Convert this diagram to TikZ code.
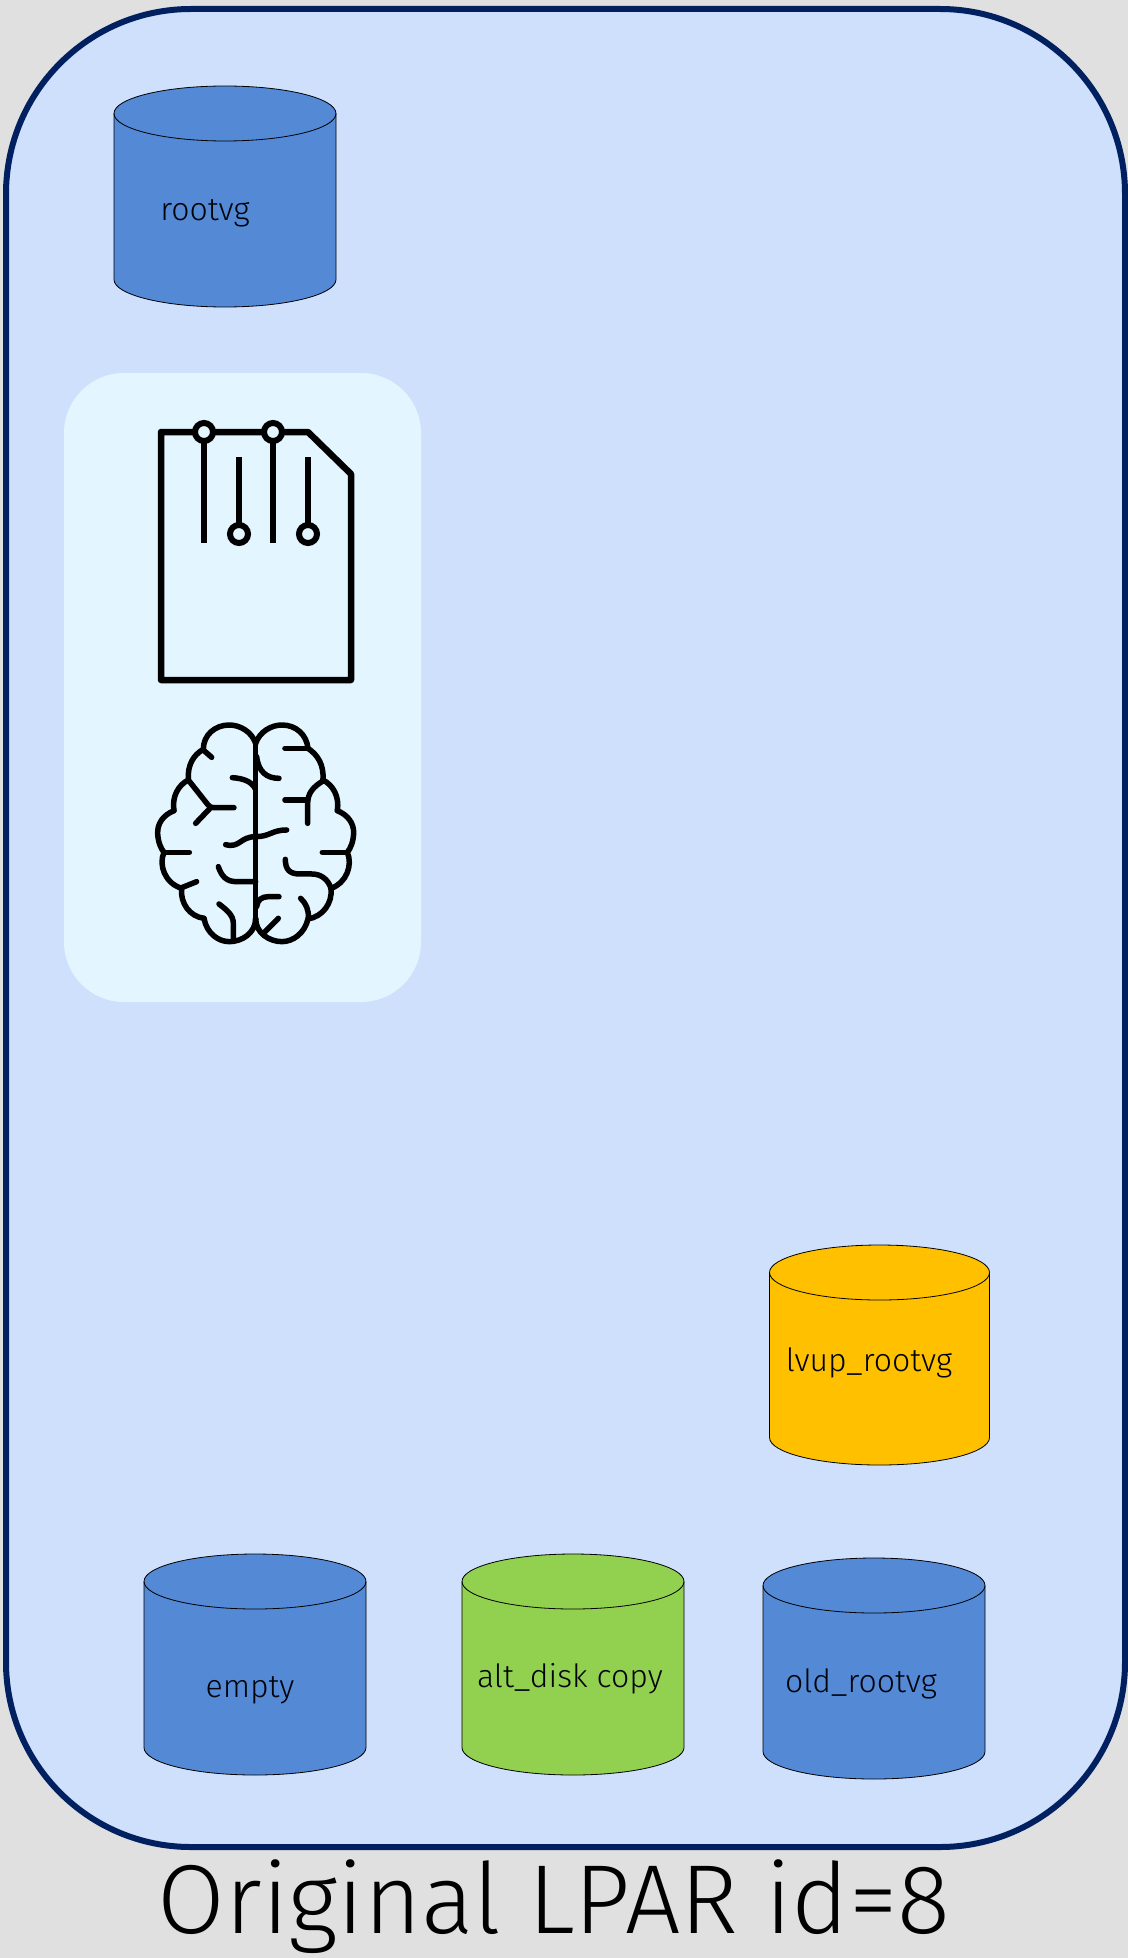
\documentclass[tikz,border=0pt]{standalone}
\usepackage{fontspec}
\usepackage{xcolor}
\setmainfont{Fira Sans Light}
\definecolor{c1}{RGB}{224,224,224}
\definecolor{c2}{RGB}{207,224,253}
\definecolor{c3}{RGB}{0,32,96}
\definecolor{c4}{RGB}{227,245,255}
\definecolor{c5}{RGB}{84,137,214}
\definecolor{c6}{RGB}{146,208,80}
\definecolor{c7}{RGB}{255,192,0}
\tikzset{
    diskline/.style={draw=black, line width=0.8pt},
    disklabel/.style={text=black!90!c3, font=\fontsize{32}{38}\selectfont, inner sep=0pt},
    icon/.style={line width=6.5pt, line join=round},
    pin/.style={circle, draw=black, line width=6pt, fill=c4, minimum size=18pt, inner sep=0pt},
    wire/.style={line width=5.5pt, line cap=round, line join=round}
}
% left x, y of the lid, x radius, y radius, side height, colour
\newcommand{\disk}[6]{
    \filldraw[diskline, fill=#6] (#1,#2) -- (#1,#2+#5) arc[start angle=180, end angle=360, x radius=#3pt, y radius=#4pt]
        -- (#1+2*#3,#2) arc[start angle=0, end angle=180, x radius=#3pt, y radius=#4pt] -- cycle;
    \draw[diskline] (#1,#2) arc[start angle=180, end angle=360, x radius=#3pt, y radius=#4pt];
}
\begin{document}
\begin{tikzpicture}[x=1pt, y=-1pt]
\fill[c1] (0,0) rectangle (1128,1958);
\draw[c3, fill=c2, line width=6pt, rounded corners=185pt] (6,9) rectangle (1125,1847);
\fill[c4, rounded corners=60pt] (64,373) rectangle (421,1002);
% disks
\disk{114}{113.5}{111}{27.5}{166}{c5}
\disk{769.5}{1272.5}{110}{27.5}{165}{c7}
\disk{144}{1581.5}{111}{27.5}{166}{c5}
\disk{462}{1581.5}{111}{27.5}{166}{c6}
\disk{763}{1585.5}{111}{27.5}{166}{c5}
\node[disklabel] (rootvgtext) at (205,213) {rootvg};
\node[disklabel] (lvuptext) at (869,1363) {lvup\_rootvg};
\node[disklabel] (emptytext) at (250,1690) {empty};
\node[disklabel] (alttext) at (570,1679) {alt\_disk copy};
\node[disklabel] (oldtext) at (861,1684) {old\_rootvg};
% card icon
\draw[icon] (161,432) -- (308,432) -- (351,474) -- (351,680) -- (161,680) -- cycle;
\draw[icon] (204,432) -- (204,543);
\draw[icon] (273,432) -- (273,543);
\draw[icon] (239,457) -- (239,534);
\draw[icon] (308,457) -- (308,534);
\node[pin] (pina) at (204,432) {};
\node[pin] (pinb) at (273,432) {};
\node[pin] (pinc) at (239,534) {};
\node[pin] (pind) at (308,534) {};
% brain
\begin{scope}[shift={(130,700)}, x=0.3333pt, y=-0.3333pt, wire]
\draw (377,130) -- (377,670);
% left side
\draw (377,130) .. controls (365,95) and (330,75) .. (298,75) .. controls (255,75) and (220,105) .. (220,148);
\draw (220,148) .. controls (190,165) and (172,195) .. (175,240);
\draw (175,240) .. controls (145,255) and (125,290) .. (132,332);
\draw (132,332) .. controls (100,345) and (82,370) .. (83,400) .. controls (84,425) and (92,445) .. (102,457);
\draw (102,457) .. controls (85,495) and (105,550) .. (155,565);
\draw (155,565) .. controls (150,610) and (180,650) .. (222,655);
\draw (222,655) .. controls (230,700) and (265,725) .. (298,725) .. controls (335,725) and (377,700) .. (377,655);
\draw (220,150) -- (245,172);
\draw (175,240) -- (232,312) .. controls (238,320) and (242,323) .. (250,323) -- (312,323);
\draw (240,325) -- (197,370);
\draw (307,233) .. controls (340,235) and (365,245) .. (375,265);
\draw (105,457) -- (178,457);
\draw (287,434) .. controls (330,445) and (330,410) .. (377,410) .. controls (420,410) and (425,390) .. (470,390);
\draw (265,500) .. controls (275,530) and (290,545) .. (320,545) -- (377,545);
\draw (155,563) -- (200,545);
\draw (267,612) .. controls (290,630) and (310,645) .. (310,670) -- (310,720);
% right side
\draw (377,130) .. controls (389,95) and (424,75) .. (456,75) .. controls (499,75) and (530,105) .. (534,145);
\draw (534,145) .. controls (564,165) and (582,195) .. (579,240);
\draw (579,240) .. controls (609,255) and (629,290) .. (622,332);
\draw (622,332) .. controls (654,345) and (672,370) .. (671,400) .. controls (670,425) and (662,445) .. (652,457);
\draw (652,457) .. controls (669,495) and (649,550) .. (603,565);
\draw (603,565) .. controls (608,610) and (578,650) .. (534,657);
\draw (534,657) .. controls (524,700) and (489,725) .. (456,725) .. controls (419,725) and (377,700) .. (377,655);
\draw (465,145) -- (534,145);
\draw (380,170) .. controls (385,215) and (410,235) .. (447,235);
\draw (465,300) -- (533,300);
\draw (579,243) .. controls (550,260) and (533,280) .. (533,310) -- (533,370);
\draw (649,457) -- (577,457);
\draw (466,478) .. controls (466,510) and (480,522) .. (510,522) -- (545,522) .. controls (575,522) and (595,540) .. (603,565);
\draw (512,595) .. controls (528,610) and (537,630) .. (535,655);
\draw (447,590) -- (415,590) .. controls (395,590) and (382,600) .. (380,620);
\draw (445,655) -- (405,695);
\end{scope}
\node[inner sep=0pt, font=\fontsize{98}{112}\selectfont] (title) at (554,1907) {Original LPAR id=8};
\pgfresetboundingbox
\useasboundingbox (0,0) rectangle (1127,1958);
\end{tikzpicture}
\end{document}
